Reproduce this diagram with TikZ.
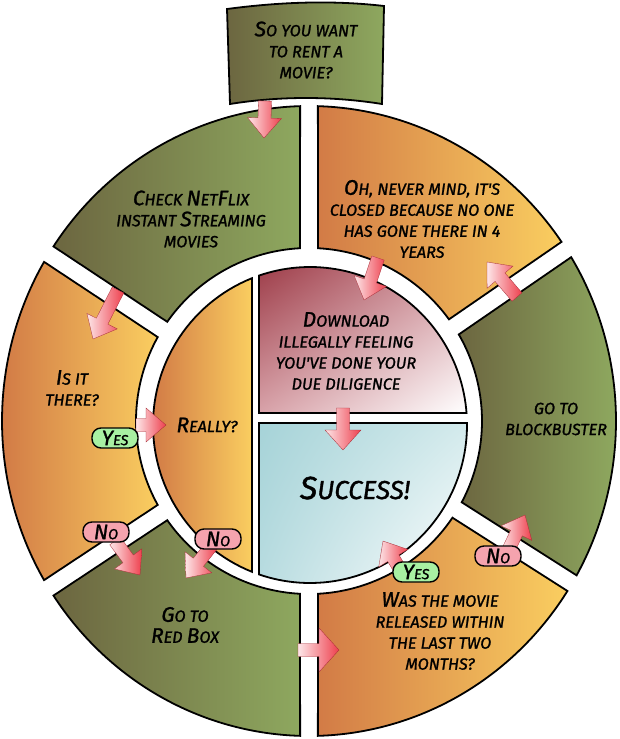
\documentclass[tikz,border=0pt]{standalone}
\usepackage{fontspec}
\setmainfont{Fira Sans}
\newfontfamily\comic{Fira Sans Italic}[FakeBold=1.3]
\usetikzlibrary{calc,shadings}
\definecolor{gL}{HTML}{6C6640}
\definecolor{gR}{HTML}{8EA85F}
\definecolor{oL}{HTML}{D27B46}
\definecolor{oR}{HTML}{FACE60}
\definecolor{dlA}{HTML}{9E3E4A}
\definecolor{dlB}{HTML}{D8A2A9}
\definecolor{suA}{HTML}{A6D3D8}
\definecolor{suB}{HTML}{D3EAEC}
\definecolor{arrred}{HTML}{EE3F4D}
\definecolor{arrpale}{HTML}{FDE6E8}
\definecolor{yesgreen}{HTML}{A8F0A2}
\definecolor{nopink}{HTML}{F5A3AE}
\newcommand\cc[1]{{\fontsize{21}{21}\selectfont #1}}
\newcommand\ccbig[1]{{\fontsize{32}{32}\selectfont #1}}
\tikzset{
  outline/.style={draw=black, line width=1.8pt},
  segtext/.style={align=center, font=\comic\fontsize{16.2}{21}\selectfont, text=black, inner sep=0pt},
  pill/.style={draw=black, line width=1.4pt, rounded corners=9pt, minimum width=46pt,
    minimum height=20pt, inner sep=0pt, font=\comic\fontsize{14.5}{14.5}\selectfont},
  yespill/.style={pill, fill=yesgreen},
  nopill/.style={pill, fill=nopink},
  arrowbody/.style={left color=arrpale, right color=arrred, draw=arrred!70!black, line width=0.3pt},
}
% ring segment between gap angles #1 and #2
\newcommand\ringseg[4]{%
  \pgfmathsetmacro\ta{#1+asin(9/311)}%
  \pgfmathsetmacro\tb{#2-asin(9/311)}%
  \pgfmathsetmacro\ua{#1+asin(9/173)}%
  \pgfmathsetmacro\ub{#2-asin(9/173)}%
  \shadedraw[outline, left color=#3, right color=#4]
    plot[domain=\ta:\tb, samples=70] ({309+307*cos(\x)},{421-315*sin(\x)})
    -- plot[domain=\ub:\ua, samples=50] ({309+173*cos(\x)},{421-173*sin(\x)}) -- cycle;
}
% block arrow from coordinate (#2-tail) to (#2-tip); #1 = half head width
\newcommand\barrow[6][17]{%
  \coordinate (#2-tail) at (#3,#4);
  \coordinate (#2-tip) at (#5,#6);
  \pgfmathsetmacro\bang{atan2(-(#6-#4),#5-#3)}%
  \pgfmathsetmacro\blen{veclen(#5-#3,#6-#4)}%
  \begin{scope}[shift={(#2-tail)}, rotate=\bang]
    \shade[arrowbody] (0,-6.5) -- ({\blen-20},-6.5) -- ({\blen-20},-#1) -- (\blen,0)
      -- ({\blen-20},#1) -- ({\blen-20},6.5) -- (0,6.5) -- cycle;
  \end{scope}
}
\begin{document}
\begin{tikzpicture}[x=1pt,y=-1pt]
\useasboundingbox (0,0) rectangle (620,739);
\fill[white] (0,0) rectangle (620,739);

% outer ring
\ringseg{90}{148}{gL}{gR}
\ringseg{148}{212}{oL}{oR}
\ringseg{212}{270}{gL}{gR}
\ringseg{270}{329}{oL}{oR}
\ringseg{-31}{33}{gL}{gR}
\ringseg{33}{90}{oL}{oR}

% inner circle
\shadedraw[outline, left color=oL, right color=oR]
  plot[domain=111.7:248.3, samples=60] ({310+157*cos(\x)},{425-158*sin(\x)}) -- cycle;
\shadedraw[outline, upper left=dlA, upper right=dlB, lower left=dlB, lower right=white]
  (259,413) -- plot[domain=108.95:4.35, samples=60] ({310+157*cos(\x)},{425-158*sin(\x)}) -- cycle;
\shadedraw[outline, upper left=suA, upper right=suB, lower left=suA!80!white, lower right=white]
  (259,423) -- plot[domain=0.725:-108.95, samples=60] ({310+157*cos(\x)},{425-158*sin(\x)}) -- cycle;

% top box
\shadedraw[outline, left color=gL, right color=gR]
  (230,104) .. controls (280,96) and (332,96) .. (382,104) -- (384,6)
  .. controls (332,0) and (280,2) .. (227,9) -- cycle;

% texts
\node[segtext] (start) at (306,50) {\cc{S}O YOU WANT\\TO RENT A\\MOVIE?};
\node[segtext] (netflix) at (191,219) {\cc{C}HECK \cc{N}ET\cc{F}LIX\\INSTANT \cc{S}TREAMING\\MOVIES};
\node[segtext] (closed) at (422,219) {\cc{O}H, NEVER MIND, IT'S\\CLOSED BECAUSE NO ONE\\HAS GONE THERE IN 4\\YEARS};
\node[segtext] (there) at (72,388) {\cc{I}S IT\\THERE?};
\node[segtext] (really) at (207,425) {\cc{R}EALLY?};
\node[segtext] (download) at (346,351) {\cc{D}OWNLOAD\\ILLEGALLY FEELING\\YOU'VE DONE YOUR\\DUE DILIGENCE};
\node[segtext, font=\comic\fontsize{26}{26}\selectfont] (success) at (355,488) {\ccbig{S}UCCESS!};
\node[segtext] (blockbuster) at (556,419) {GO TO\\BLOCKBUSTER};
\node[segtext] (redbox) at (185,625) {\cc{G}O TO\\\cc{R}ED \cc{B}OX};
\node[segtext] (released) at (440,631) {\cc{W}AS THE MOVIE\\RELEASED WITHIN\\THE LAST TWO\\MONTHS?};

% arrows
\barrow{a1}{265}{101}{264}{138}
\barrow{a2}{118}{290}{93}{339}
\barrow{a3}{378}{258}{364}{300}
\barrow{a4}{136}{425}{166}{425}
\barrow{a5}{115}{541}{140}{575}
\barrow{a6}{212}{545}{186}{578}
\barrow[22]{a7}{298}{650}{339}{650}
\barrow{a8}{398}{566}{383}{541}
\barrow{a9}{507}{553}{525}{515}
\barrow{a10}{517}{297}{487}{262}
\barrow[18]{a11}{343}{408}{343}{450}

% labels
\node[yespill] (yes1) at (115,438) {\cc{Y}ES};
\node[nopill] (no1) at (106,532) {\cc{N}O};
\node[nopill] (no2) at (218,539) {\cc{N}O};
\node[yespill] (yes2) at (416,572) {\cc{Y}ES};
\node[nopill] (no3) at (498,556) {\cc{N}O};
\end{tikzpicture}
\end{document}
